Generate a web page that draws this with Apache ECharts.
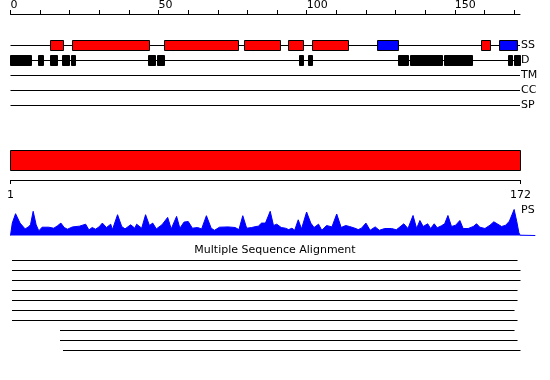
<!DOCTYPE html>
<html><head><meta charset="utf-8">
<script src="https://cdn.jsdelivr.net/npm/echarts@6/dist/echarts.min.js"></script>
<style>html,body{margin:0;padding:0;background:#fff}#c{width:550px;height:380px}</style>
</head><body><div id="c"></div>
<script>
const seqLength = 172;
const tracks = ['SS', 'D', 'TM', 'CC', 'SP'];
const topTickLabels = [0, 50, 100, 150];
const topTicks = [0, 10, 20, 30, 40, 50, 60, 70, 80, 90, 100, 110, 120, 130, 140, 150, 160, 170];
const seqTickLabels = [1, 172];
const helixRanges = [[13.5, 18], [21, 47], [52, 77], [79, 91], [94, 99], [102, 114], [159, 162]];
const strandRanges = [[124, 131], [165, 171.2]];
const disorderRanges = [[0, 7], [9.5, 11], [13.5, 16], [17.5, 20], [20.5, 22], [46.5, 49], [49.5, 52],
  [97.5, 99], [100.5, 102], [131, 134.5], [135, 146], [146.5, 156], [168, 169.5], [170, 172]];
const profile = [[1,0],[1.6,12.4],[2.7,21.8],[4.2,12.4],[5.9,6.6],[7,8.6],[7.7,10.7],[8.6,24.2],[9.6,10.7],[10.5,4.6],
  [11.6,8.3],[13.8,8.3],[15.5,7.3],[16.7,9.6],[17.9,12.4],[19,8],[20.1,6.3],[21.8,8.6],[24.1,9.3],[26.2,11.3],
  [27.3,5.6],[28.4,8],[29.5,6.3],[30.7,8.6],[31.8,12.4],[33.2,8],[34.6,11.3],[35.2,5.9],[36.9,20.8],[38.3,9],
  [39.4,6.6],[41.3,10.7],[42.7,7.3],[43.3,11.3],[45,7.3],[46.3,20.8],[47.6,10],[48.7,12.4],[49.9,6.6],[51.8,10.7],
  [53.7,18.1],[54.9,6.6],[56.7,19.1],[57.8,7.3],[59.2,13.4],[60.6,14],[62,7.3],[63.7,8],[65.1,6.6],[66.7,19.8],
  [68.3,7.3],[69.4,5.2],[71.1,8.3],[74,8.6],[76.3,8],[77.6,5.9],[78.9,19.8],[80.2,7.3],[81.9,8],[83.3,9],
  [84.1,9.3],[85.2,12.4],[86.5,12.4],[88.1,24.2],[89.2,10],[90.3,11.3],[91.8,8],[93.2,7.3],[94.3,5.9],[95.4,7.3],
  [96.3,5.2],[97.5,15.7],[98.6,6.6],[100.3,23.5],[101.7,12.4],[102.8,8],[104.3,11.3],[105.4,5.2],[107,10],[108.8,8.6],
  [110.4,21.5],[111.9,8],[113.4,10],[114.7,9],[116.5,7.3],[117.6,5.9],[118.7,7.3],[120.2,12.4],[121.6,5.2],[123.3,8.6],
  [124.7,5.2],[126.5,7],[128.8,7],[130.4,5.7],[132.9,11.7],[134.3,7],[136,20],[137.2,7],[138.3,15],[139.4,9],
  [140.9,11.7],[141.9,7],[143.1,11.7],[144.1,7.7],[145.5,9.7],[146.6,11.7],[147.7,20],[148.9,9],[150.3,10.3],[151.7,15],
  [152.8,7],[154.5,7],[156.2,9],[157.3,11.7],[158.4,8.3],[160.1,7],[161.8,10.3],[163.1,13.7],[164.2,11.7],[165.7,9],
  [167.1,10.3],[168.3,14.3],[169.9,26],[170.8,13.7],[171.5,2.7],[171.9,0.3],[172.5,0],[177,0]];
const msaRows = ['1', '2', '3', '4', '5', '6', '7', '8', '9', '10'];
const msaStarts = [1.5, 1.5, 1.5, 1.5, 1.5, 1.5, 1.5, 17.6, 17.6, 18.6];
const msaEnds = [171, 172, 172, 171, 171, 170, 171, 170, 171, 172];

const FONT = 'DejaVu Sans';
const crisp = v => Math.round(v - 0.5) + 0.5;

function boxSeries(ranges, track, color) {
  const ti = tracks.indexOf(track);
  return {
    type: 'custom', xAxisIndex: 0, yAxisIndex: 0, z: 5, silent: true,
    data: ranges.map(r => [r[0], r[1], ti]),
    encode: { x: [0, 1], y: 2 },
    renderItem(params, api) {
      const a = api.coord([api.value(0), api.value(2)]);
      const b = api.coord([api.value(1), api.value(2)]);
      const x0 = crisp(a[0]), x1 = crisp(b[0]), yc = crisp(a[1]);
      return { type: 'rect', shape: { x: x0, y: yc - 5, width: x1 - x0, height: 10 },
        style: { fill: color, stroke: '#000', lineWidth: 1 } };
    }
  };
}

function hLineSeries(xi, yi, starts, ends, z) {
  return {
    type: 'custom', xAxisIndex: xi, yAxisIndex: yi, z: z, silent: true,
    data: starts.map((s, i) => [s, ends[i], i]),
    encode: { x: [0, 1], y: 2 },
    renderItem(params, api) {
      const a = api.coord([api.value(0), api.value(2)]);
      const b = api.coord([api.value(1), api.value(2)]);
      const y = crisp(a[1]);
      return { type: 'line', shape: { x1: a[0], y1: y, x2: b[0], y2: y },
        style: { stroke: '#000', lineWidth: 1 } };
    }
  };
}

const chart = echarts.init(document.getElementById('c'), null, { renderer: 'canvas' });
const gridBase = { containLabel: false, outerBoundsMode: 'none', show: false };
chart.setOption({
  animation: false,
  backgroundColor: '#fff',
  textStyle: { fontFamily: FONT },
  title: {
    text: 'Multiple Sequence Alignment', left: 'center', top: 245, padding: 0,
    textStyle: { fontFamily: FONT, fontSize: 11, fontWeight: 'normal', color: '#000' }
  },
  graphic: [{
    type: 'text', left: 521, top: 205,
    style: { text: 'PS', font: '11px "DejaVu Sans"', fill: '#000' }
  }],
  grid: [
    Object.assign({ left: 10.5, top: 38, width: 509.5, height: 75 }, gridBase),
    Object.assign({ left: 10.5, top: 150, width: 510, height: 30 }, gridBase),
    Object.assign({ left: 10.5, top: 209.5, width: 524.8, height: 26 }, gridBase),
    Object.assign({ left: 10.5, top: 255, width: 510, height: 100 }, gridBase)
  ],
  xAxis: [
    {
      gridIndex: 0, type: 'value', min: 0, max: seqLength, position: 'top', offset: 24,
      axisLine: { show: true, lineStyle: { color: '#000', width: 1 } },
      axisTick: { show: true, length: 4, customValues: topTicks, lineStyle: { color: '#000' } },
      axisLabel: { show: true, customValues: topTickLabels, align: 'left', margin: 3,
        fontFamily: FONT, fontSize: 11, color: '#000' },
      splitLine: { show: false }
    },
    {
      gridIndex: 1, type: 'value', min: 1, max: seqLength, position: 'bottom',
      axisLine: { show: true, lineStyle: { color: '#000', width: 1 } },
      axisTick: { show: true, length: 4, customValues: seqTickLabels, lineStyle: { color: '#000' } },
      axisLabel: { show: true, customValues: seqTickLabels, margin: 10,
        fontFamily: FONT, fontSize: 11, color: '#000' },
      splitLine: { show: false }
    },
    { gridIndex: 2, type: 'value', min: 1, max: 177, show: false },
    { gridIndex: 3, type: 'value', min: 1, max: seqLength, show: false }
  ],
  yAxis: [
    {
      gridIndex: 0, type: 'category', data: tracks, inverse: true, position: 'right',
      axisLine: { show: false }, axisTick: { show: false }, splitLine: { show: false },
      axisLabel: { margin: 1, fontFamily: FONT, fontSize: 11, color: '#000' }
    },
    { gridIndex: 1, type: 'value', min: 0, max: 1, show: false },
    { gridIndex: 2, type: 'value', min: 0, max: 26, show: false },
    { gridIndex: 3, type: 'category', data: msaRows, inverse: true, show: false }
  ],
  series: [
    hLineSeries(0, 0, tracks.map(() => 0), tracks.map(() => seqLength), 2),
    boxSeries(helixRanges, 'SS', '#ff0000'),
    boxSeries(strandRanges, 'SS', '#0000ff'),
    boxSeries(disorderRanges, 'D', '#000000'),
    {
      type: 'custom', xAxisIndex: 1, yAxisIndex: 1, silent: true,
      data: [[1, seqLength]], encode: { x: [0, 1] },
      renderItem(params, api) {
        const a = api.coord([api.value(0), 0]);
        const b = api.coord([api.value(1), 0]);
        const top = params.coordSys.y;
        return { type: 'rect', shape: { x: crisp(a[0]), y: top + 0.5, width: crisp(b[0]) - crisp(a[0]), height: 20 },
          style: { fill: '#ff0000', stroke: '#000', lineWidth: 1 } };
      }
    },
    {
      type: 'line', xAxisIndex: 2, yAxisIndex: 2, data: profile, symbol: 'none', silent: true,
      lineStyle: { color: '#0000ff', width: 1 }, itemStyle: { color: '#0000ff' },
      areaStyle: { color: '#0000ff', opacity: 1 }
    },
    hLineSeries(3, 3, msaStarts, msaEnds, 2)
  ]
});
</script></body></html>
